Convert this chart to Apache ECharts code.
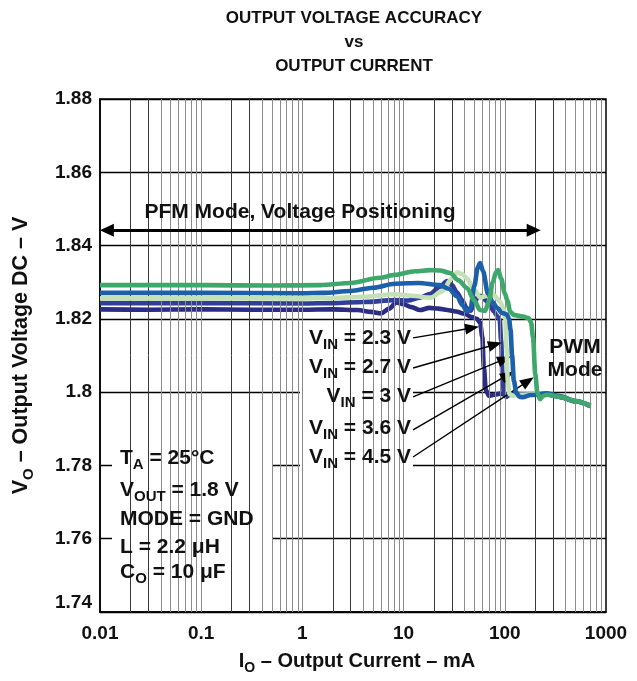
<!DOCTYPE html>
<html><head><meta charset="utf-8">
<script src="https://cdn.jsdelivr.net/npm/echarts@6/dist/echarts.min.js"></script>
<style>html,body{margin:0;padding:0;background:#fff}#c{width:637px;height:681px}</style>
</head><body><div id="c"></div>
<script>
// ---------- data (x: output current mA, y: output voltage V) ----------
const xTickLabels = ['0.01', '0.1', '1', '10', '100', '1000'];
const yTickLabels = ['1.74', '1.76', '1.78', '1.8', '1.82', '1.84', '1.86', '1.88'];
const seriesNames = ['VIN = 2.3 V', 'VIN = 2.7 V', 'VIN = 3 V', 'VIN = 3.6 V', 'VIN = 4.5 V'];

const vin23 = [[0.01,1.8226],[0.03,1.8225],[0.1,1.8226],[0.3,1.8225],[1,1.8225],[2,1.8226],[3.5,1.8224],[4.8,1.8219],[6.0,1.8215],[7.2,1.8228],[8.5,1.8245],[10,1.8240],[12,1.8232],[14.5,1.8224],[18,1.8230],[22,1.8228],[27,1.8224],[33,1.8220],[40,1.8214],[47,1.8205],[53,1.8200],[57,1.8190],[60,1.8150],[62,1.8070],[65,1.8005],[70,1.7990],[78,1.7993],[90,1.7996],[100,1.7993],[130,1.7994],[200,1.7993],[261,1.7994],[350,1.7987],[500,1.7975],[700,1.7962]];
const vin27 = [[0.01,1.8243],[0.1,1.8243],[1,1.8242],[2,1.8243],[4,1.8246],[8.2,1.8251],[11,1.8250],[14.5,1.8258],[18.2,1.8268],[22.9,1.8288],[26.9,1.8303],[30,1.8292],[33.7,1.8272],[38,1.8250],[42.3,1.8228],[46,1.8222],[50,1.8245],[55,1.8262],[60,1.8262],[66,1.8248],[72,1.8235],[78,1.8220],[84,1.8208],[89,1.8198],[92,1.8140],[95,1.8040],[98,1.7998],[103,1.7987],[110,1.7992],[130,1.7995],[200,1.7993],[261,1.7994],[350,1.7987],[500,1.7975],[700,1.7962]];
const vin30 = [[0.01,1.8256],[0.1,1.8256],[1,1.8256],[2,1.8257],[4,1.8260],[8.2,1.8267],[12,1.8263],[18.5,1.8258],[24,1.8275],[30,1.8310],[34,1.8327],[38,1.8322],[42.3,1.8310],[50,1.8280],[57,1.8258],[64,1.8262],[72,1.8275],[80,1.8262],[90,1.8246],[97,1.8228],[101,1.8200],[104,1.8120],[107,1.8030],[111,1.7995],[120,1.7990],[140,1.7993],[200,1.7994],[261,1.7995],[350,1.7988],[500,1.7976],[700,1.7963]];
const vin36 = [[0.01,1.8271],[0.1,1.8271],[1,1.8270],[1.6,1.8271],[3,1.8276],[5,1.8285],[8.2,1.8296],[14,1.8298],[22.9,1.8292],[28,1.8282],[33.7,1.8262],[38,1.8238],[42.3,1.8220],[46,1.8230],[50,1.8290],[54,1.8340],[57,1.8352],[61,1.8330],[68,1.8270],[76,1.8245],[84,1.8230],[94,1.8216],[105,1.8212],[110,1.8200],[114,1.8170],[118,1.8100],[123,1.8030],[130,1.7998],[140,1.7987],[150,1.7986],[180,1.7992],[261,1.7997],[350,1.7989],[500,1.7976],[700,1.7963]];
const vin45 = [[0.01,1.8292],[0.1,1.8292],[0.5,1.8291],[1.5,1.8292],[3,1.8298],[5.8,1.8312],[8.2,1.8320],[13,1.8330],[18.2,1.8333],[23,1.8332],[28.7,1.8325],[35,1.8305],[42.3,1.8284],[50,1.8250],[57,1.8224],[64,1.8222],[70,1.8250],[76,1.8300],[82,1.8328],[86,1.8333],[92,1.8310],[100,1.8270],[106,1.8250],[113,1.8220],[122,1.8211],[151,1.8206],[172,1.8202],[182,1.8190],[190,1.8150],[200,1.8050],[210,1.7998],[223,1.7981],[240,1.7990],[261,1.7993],[351,1.7987],[500,1.7976],[700,1.7963]];

const seriesData = [vin23, vin27, vin30, vin36, vin45];
const seriesColors = ['#2a2c86', '#2f3d9c', '#c4e1b6', '#1c5fab', '#3ea86c'];

// annotation arrows: [label end, arrow tip] in data coords
const arrowStarts = [[12.4,1.8148],[12.4,1.8066],[12.4,1.7987],[12.4,1.7897],[12.4,1.7823]];
const arrowTips = [[47.5,1.8175],[80.3,1.8130],[99.3,1.8090],[107.1,1.8047],[169.4,1.8030]];
const pfmArrow = [[0.0117,1.8442],[193,1.8442]];

// ---------- chart ----------
const FONT = '"Liberation Sans", Arial, Helvetica, sans-serif';
const chart = echarts.init(document.getElementById('c'));

const minorLines = [];
[0.01, 0.1, 1, 10, 100].forEach(function (d) {
  for (let k = 2; k <= 10; k++) {
    if (d === 100 && k === 10) continue;
    const dark = (k === 2 || k === 3);
    minorLines.push({ xAxis: k * d, lineStyle: { color: dark ? '#3a3a3a' : '#8c8c8c', width: 1, type: 'solid' } });
  }
});

function rich(size) {
  return {
    m: { fontFamily: FONT, fontWeight: 'bold', fontSize: size, color: '#111' },
    s: { fontFamily: FONT, fontWeight: 'bold', fontSize: Math.round(size * 0.72), color: '#111', padding: [14, 0, 0, 0] }
  };
}
function txt(x, y, text, align, size) {
  size = size || 21;
  return {
    type: 'text', x: x, y: y, z: 10, silent: true,
    style: { text: text, align: align, textAlign: align, verticalAlign: 'middle', textVerticalAlign: 'middle',
      fill: '#111', fontFamily: FONT, fontWeight: 'bold', fontSize: size, rich: rich(size) }
  };
}
function box(x, y, w, h) {
  return { type: 'rect', z: 1, silent: true, shape: { x: x, y: y, width: w, height: h }, style: { fill: '#fff' } };
}

const curveSeries = seriesData.map(function (d, i) {
  return {
    name: seriesNames[i], type: 'line', data: d, showSymbol: false, symbol: 'none',
    smooth: 0.3, smoothMonotone: 'x', z: 3 + i,
    lineStyle: { color: seriesColors[i], width: 4.6 }, itemStyle: { color: seriesColors[i] }
  };
});

const arrowData = arrowStarts.map(function (s, i) {
  return [{ coord: s, symbol: 'none' }, { coord: arrowTips[i], symbol: 'triangle', symbolSize: [11, 14] }];
});
arrowData.push([
  { coord: pfmArrow[0], symbol: 'triangle', symbolSize: [13, 14], lineStyle: { width: 3 } },
  { coord: pfmArrow[1], symbol: 'triangle', symbolSize: [13, 14], lineStyle: { width: 3 } }
]);

const option = {
  animation: false,
  backgroundColor: '#fff',
  grid: { left: 100, right: 31, top: 99, bottom: 69, show: true, borderColor: '#000', borderWidth: 1.5 },
  xAxis: {
    type: 'log', logBase: 10, min: 0.01, max: 1000,
    name: '{m|I}{s|O}{m| – Output Current – mA}', nameLocation: 'middle', nameGap: 35,
    nameTextStyle: { rich: rich(20), padding: [0, 0, 0, 8] },
    axisLine: { show: true, lineStyle: { color: '#000', width: 1.5 } },
    axisTick: { show: false },
    splitLine: { show: false },
    axisLabel: {
      show: true, margin: 12, color: '#111', fontFamily: FONT, fontWeight: 'bold', fontSize: 19,
      showMinLabel: true, showMaxLabel: true,
      formatter: function (v) { const e = Math.round(Math.log10(v)); return xTickLabels[e + 2]; }
    }
  },
  yAxis: {
    type: 'value', min: 1.74, max: 1.88, interval: 0.02,
    name: '{m|V}{s|O}{m| – Output Voltage DC – V}', nameLocation: 'middle', nameGap: 64,
    nameTextStyle: { rich: rich(21.5), padding: [0, 0, 0, 0] },
    axisLine: { show: true, lineStyle: { color: '#000', width: 1.5 } },
    axisTick: { show: false },
    splitLine: { show: true, lineStyle: { color: '#000', width: 1.3 } },
    axisLabel: {
      margin: 8, color: '#111', fontFamily: FONT, fontWeight: 'bold', fontSize: 19,
      formatter: function (v) {
        const idx = Math.round((v - 1.74) / 0.02);
        const s = yTickLabels[idx];
        return idx === 0 ? '{lo|' + s + '}' : s;
      },
      rich: { lo: { fontFamily: FONT, fontWeight: 'bold', fontSize: 19, color: '#111', padding: [0, 0, 18, 0] } }
    }
  },
  graphic: [
    { type: 'text', x: 354, y: 6, z: 10, silent: true,
      style: { text: 'OUTPUT VOLTAGE ACCURACY\nvs\nOUTPUT CURRENT', align: 'center', textAlign: 'center',
        verticalAlign: 'top', textVerticalAlign: 'top', lineHeight: 24, fill: '#111',
        fontFamily: FONT, fontWeight: 'bold', fontSize: 17 } },
    box(130, 199, 335, 27),
    box(300, 322, 113, 156),
    box(112, 442, 161, 153),
    box(542, 333, 62, 55),
    txt(300, 212, 'PFM Mode, Voltage Positioning', 'center', 21),
    txt(411, 338, '{m|V}{s|IN}{m| = 2.3 V}', 'right'),
    txt(411, 367, '{m|V}{s|IN}{m| = 2.7 V}', 'right'),
    txt(411, 396, '{m|V}{s|IN}{m| = 3 V}', 'right'),
    txt(411, 428, '{m|V}{s|IN}{m| = 3.6 V}', 'right'),
    txt(411, 457, '{m|V}{s|IN}{m| = 4.5 V}', 'right'),
    txt(575, 347, 'PWM', 'center'),
    txt(575, 370, 'Mode', 'center'),
    txt(120, 458, '{m|T}{s|A}{m| = 25°C}', 'left'),
    txt(120, 490, '{m|V}{s|OUT}{m| = 1.8 V}', 'left'),
    txt(120, 519, 'MODE = GND', 'left'),
    txt(120, 547, 'L = 2.2 μH', 'left'),
    txt(120, 572, '{m|C}{s|O}{m| = 10 μF}', 'left')
  ],
  series: [
    { name: 'grid', type: 'line', data: [], z: 0, silent: true,
      markLine: { silent: true, symbol: 'none', animation: false, label: { show: false }, data: minorLines } }
  ].concat(curveSeries).concat([
    { name: 'arrows', type: 'line', data: [], z: 12, silent: true,
      markLine: { silent: true, animation: false, label: { show: false },
        lineStyle: { color: '#000', width: 1.4, type: 'solid' }, itemStyle: { color: '#000' },
        data: arrowData } }
  ])
};
chart.setOption(option);
</script>
</body></html>
